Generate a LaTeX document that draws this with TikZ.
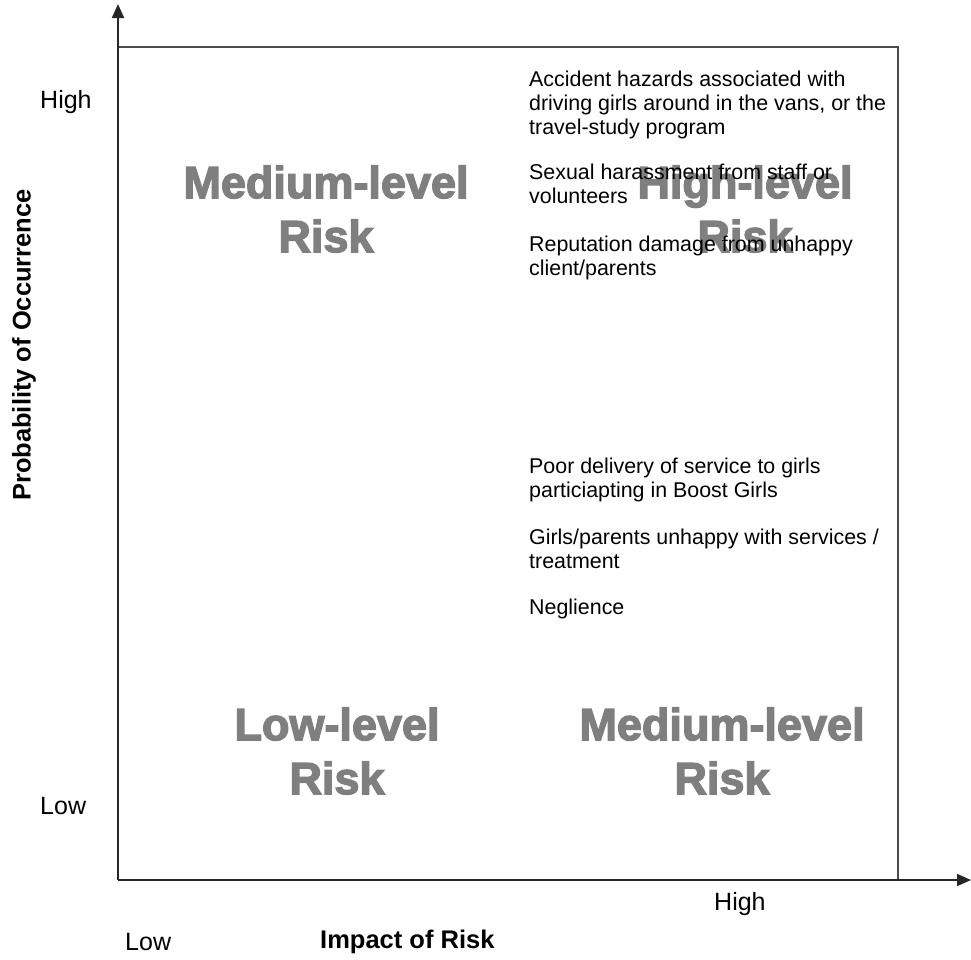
\documentclass[tikz,border=0pt]{standalone}
\usepackage{fontspec}
\setmainfont{Liberation Sans}
\newfontfamily\heavyfont{Liberation Sans Bold}[FakeBold=3]
\usetikzlibrary{arrows.meta}
\definecolor{zonegray}{HTML}{7F7F7F}
\begin{document}
\begin{tikzpicture}[x=1pt,y=-1pt,
  axis/.style={line width=1.8pt, draw=black!85, -{Triangle[length=14pt,width=12pt]}},
  frame/.style={line width=1.5pt, draw=black!70},
  ticklabel/.style={font=\fontsize{25}{29}\selectfont, inner sep=0pt, anchor=west},
  axistitle/.style={font=\fontsize{25.5}{29}\selectfont\bfseries, inner sep=0pt},
  zone/.style={font=\heavyfont\fontsize{45}{54}\selectfont, text=zonegray, align=center, inner sep=0pt},
  item/.style={font=\fontsize{21.4}{23.7}\selectfont, align=left, anchor=north west, inner sep=0pt}]
\useasboundingbox (0,0) rectangle (971,959);

% axes and frame
\coordinate (origin) at (118,880);
\coordinate (ytip) at (118,4);
\coordinate (xtip) at (971,880);
\coordinate (frameNW) at (118,47);
\coordinate (frameSE) at (898,880);
\draw[frame] (frameNW) -| (frameSE);
\draw[axis] (origin) -- (ytip);
\draw[axis] (origin) -- (xtip);

% risk zones
\node[zone] (medTL) at (326,209) {Medium-level\\Risk};
\node[zone] (high)  at (745,209) {High-level\\Risk};
\node[zone] (low)   at (337,751) {Low-level\\Risk};
\node[zone] (medBR) at (722,751) {Medium-level\\Risk};

% listed risks
\node[item] (r1) at (529,71) {Accident hazards associated with\\driving girls around in the vans, or the\\travel-study program};
\node[item] (r2) at (529,164) {Sexual harassment from staff or\\volunteers};
\node[item] (r3) at (529,236) {Reputation damage from unhappy\\client/parents};
\node[item] (r4) at (529,458) {Poor delivery of service to girls\\particiapting in Boost Girls};
\node[item] (r5) at (529,529) {Girls/parents unhappy with services /\\treatment};
\node[item] (r6) at (529,599) {Neglience};

% axis labels
\node[ticklabel] (yhigh) at (40,102) {High};
\node[ticklabel] (ylow)  at (40,806) {Low};
\node[ticklabel] (xhigh) at (714,904) {High};
\node[ticklabel] (xlow)  at (125,942) {Low};
\node[axistitle, anchor=west] (xtitle) at (320,942) {Impact of Risk};
\node[axistitle, rotate=90] (ytitle) at (24,345) {Probability of Occurrence};
\end{tikzpicture}
\end{document}
